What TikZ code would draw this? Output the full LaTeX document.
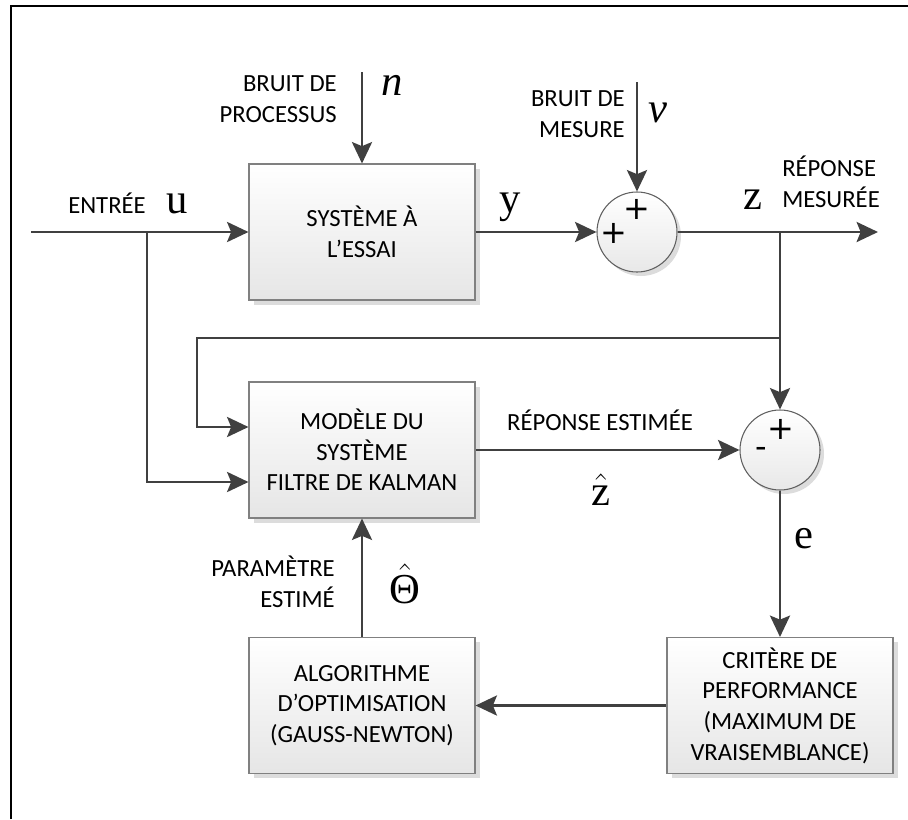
\RequirePackage{fix-cm}
\documentclass[tikz,border=0pt]{standalone}
\usepackage{amsmath}
\usepackage{fontspec}
\newfontfamily\calib{Carlito}
\newfontfamily\signfont{DejaVu Sans}
\newfontfamily\libserif{Liberation Serif}
\usetikzlibrary{arrows.meta,shadows,calc}
\definecolor{ln}{HTML}{404040}
\definecolor{bx}{HTML}{808080}
\definecolor{cx}{HTML}{606060}
\definecolor{sh}{HTML}{DCDCDC}
\begin{document}
\begin{tikzpicture}[x=0.75pt,y=-0.75pt,
  lbl/.style={font=\calib\fontsize{18.5}{23}\selectfont, inner sep=0pt},
  var/.style={font=\libserif\fontsize{32}{32}\selectfont, inner sep=0pt},
  sign/.style={font=\signfont\fontsize{24}{24}\selectfont, inner sep=0pt},
  blk/.style={rectangle, draw=bx, line width=0.8pt, top color=white, bottom color=gray!20,
    minimum width=169.5pt, minimum height=102pt, align=center, inner sep=0pt,
    font=\calib\fontsize{18.5}{23}\selectfont,
    drop shadow={shadow xshift=3.5pt, shadow yshift=-3.5pt, fill=sh, opacity=1}},
  sumnode/.style={circle, draw=cx, line width=0.8pt, top color=white, bottom color=gray!18,
    minimum size=60pt, inner sep=0pt,
    drop shadow={shadow xshift=3pt, shadow yshift=-3pt, fill=sh, opacity=1}},
  wire/.style={draw=ln, line width=2.2pt},
  arr/.style={wire, -{Stealth[length=16pt,width=15pt,inset=3pt]}}
]
\useasboundingbox (0,0) rectangle (908,819);
\draw[line width=1.6pt] (11,819) -- (11,6) -- (908,6);

% blocks
\node[blk] (sys) at (362,232) {SYSTÈME À\\L’ESSAI};
\node[blk] (mod) at (362,450) {MODÈLE DU\\SYSTÈME\\FILTRE DE KALMAN};
\node[blk] (alg) at (362,705.5) {ALGORITHME\\D’OPTIMISATION\\(GAUSS-NEWTON)};
\node[blk] (crit) at (780,705.5) {CRITÈRE DE\\PERFORMANCE\\(MAXIMUM DE\\VRAISEMBLANCE)};
\node[sumnode] (s1) at (637,232) {};
\node[sumnode] (s2) at (780,450) {};

% coordinates
\coordinate (in) at (31,232);
\coordinate (j1) at (147,232);
\coordinate (nsrc) at (362,72);
\coordinate (vsrc) at (637,82);
\coordinate (out) at (878,232);
\coordinate (j2) at (780,232);
\coordinate (j3) at (780,338);
\coordinate (lp) at (197,338);

% connectors
\draw[arr] (in) -- (sys.west);
\draw[arr] (j1) |- ($(mod.west)+(0,32)$);
\draw[arr] (j3) -- (lp) |- ($(mod.west)+(0,-23)$);
\draw[arr] (nsrc) -- (sys.north);
\draw[arr] (sys.east) -- (s1.west);
\draw[arr] (vsrc) -- (s1.north);
\draw[arr] (s1.east) -- (out);
\draw[arr] (j2) -- (s2.north);
\draw[arr] (mod.east) -- (s2.west);
\draw[arr] (s2.south) -- (crit.north);
\draw[arr] (crit.west) -- (alg.east);
\draw[arr] (alg.north) -- (mod.south);

% signs
\node[sign] (p1) at (637,209) {+};
\node[sign] (p2) at (614,233) {+};
\node[sign] (p3) at (781,429) {+};
\node[sign] (m1) at (761,452) {-};

% labels
\node[lbl, anchor=base] (lin) at (107,213) {ENTRÉE};
\node[var, anchor=base] (lu) at (177,213) {u};
\node[lbl, anchor=east, align=right] (lpn) at (337,99) {BRUIT DE\\PROCESSUS};
\node[var, anchor=base] (lnn) at (392,95) {\itshape n};
\node[var, anchor=base] (ly) at (510,212) {y};
\node[lbl, anchor=east, align=right] (lmn) at (625,114) {BRUIT DE\\MESURE};
\node[var, anchor=base] (lnu) at (658,122) {\itshape ν};
\node[var, anchor=base] (lz) at (753,209) {z};
\node[lbl, anchor=west, align=left] (lrm) at (782,182) {RÉPONSE\\MESURÉE};
\node[lbl, anchor=base] (lre) at (600,430) {RÉPONSE ESTIMÉE};
\node[var, anchor=base] (lzh) at (601,505) {$\hat{\text{\libserif z}}$};
\node[var, anchor=base] (le) at (804,548) {e};
\node[lbl, anchor=east, align=right] (lpe) at (335,582) {PARAMÈTRE\\ESTIMÉ};
\node[var, anchor=base] (lth) at (405,603) {$\hat{\text{\libserif Θ}}$};
\end{tikzpicture}
\end{document}
